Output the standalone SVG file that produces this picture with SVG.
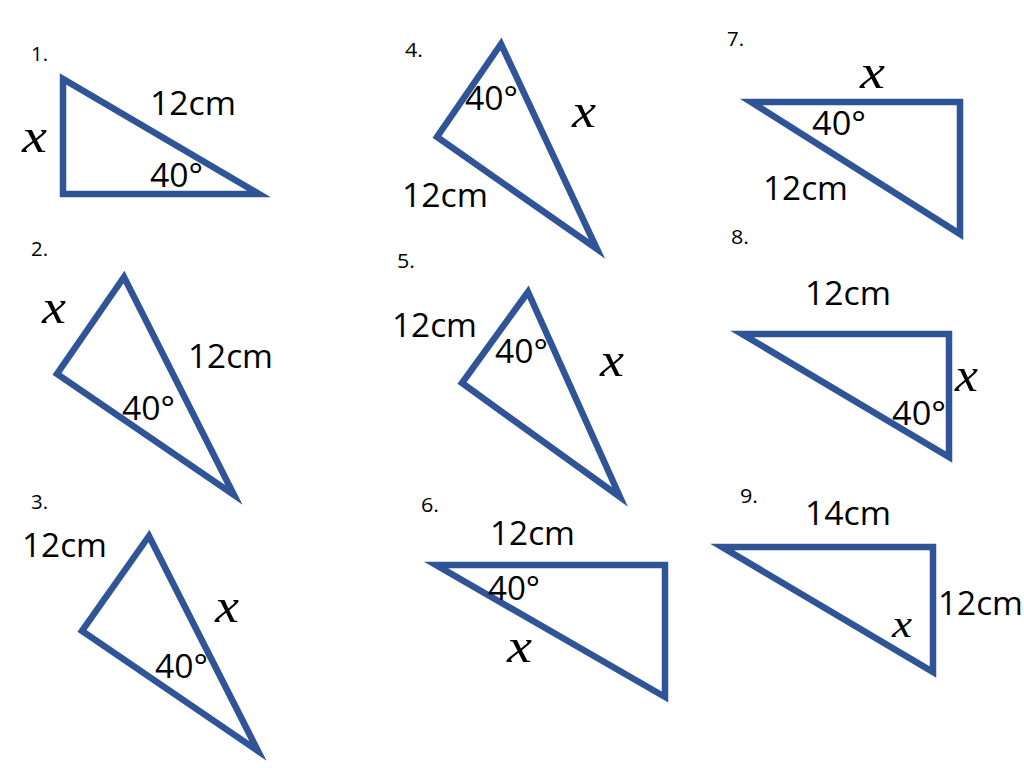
<svg xmlns="http://www.w3.org/2000/svg" width="1024" height="768" viewBox="0 0 1024 768">
<style>
.tri{fill:none;stroke:#2F5597;stroke-width:6.5;stroke-linejoin:miter;stroke-miterlimit:10}
.num{font-family:"Open Sans","Liberation Sans",sans-serif;font-size:20px;fill:#000}
.lbl{font-family:"Open Sans","Liberation Sans",sans-serif;font-size:32px;fill:#000}
.var{font-family:"Liberation Serif","DejaVu Serif",serif;font-style:italic;font-size:48px;fill:#000}
.var-s{font-family:"Liberation Serif","DejaVu Serif",serif;font-style:italic;font-size:38px;fill:#000}
</style>
<rect width="1024" height="768" fill="#fff"/>
<g id="t1">
<polygon class="tri" points="63,79 63,194 259,194"/>
<text class="num" x="31" y="61" textLength="17" lengthAdjust="spacingAndGlyphs">1.</text>
<text class="var" x="22" y="152" textLength="25" lengthAdjust="spacingAndGlyphs">x</text>
<text class="lbl" x="150" y="115" textLength="86" lengthAdjust="spacingAndGlyphs">12cm</text>
<text class="lbl" x="150" y="187" textLength="53" lengthAdjust="spacingAndGlyphs">40°</text>
</g>
<g id="t2">
<polygon class="tri" points="124,277 57,374 234,495"/>
<text class="num" x="31" y="256" textLength="17" lengthAdjust="spacingAndGlyphs">2.</text>
<text class="var" x="42" y="323" textLength="24" lengthAdjust="spacingAndGlyphs">x</text>
<text class="lbl" x="188" y="368" textLength="85" lengthAdjust="spacingAndGlyphs">12cm</text>
<text class="lbl" x="122" y="420" textLength="53" lengthAdjust="spacingAndGlyphs">40°</text>
</g>
<g id="t3">
<polygon class="tri" points="149,536 82,631 258,751"/>
<text class="num" x="31" y="509" textLength="17" lengthAdjust="spacingAndGlyphs">3.</text>
<text class="lbl" x="22" y="557" textLength="85" lengthAdjust="spacingAndGlyphs">12cm</text>
<text class="var" x="215" y="622" textLength="24" lengthAdjust="spacingAndGlyphs">x</text>
<text class="lbl" x="155" y="678" textLength="53" lengthAdjust="spacingAndGlyphs">40°</text>
</g>
<g id="t4">
<polygon class="tri" points="501,44 437,137 597,249"/>
<text class="num" x="405" y="57" textLength="18" lengthAdjust="spacingAndGlyphs">4.</text>
<text class="lbl" x="465" y="110" textLength="53" lengthAdjust="spacingAndGlyphs">40°</text>
<text class="var" x="572" y="127" textLength="24" lengthAdjust="spacingAndGlyphs">x</text>
<text class="lbl" x="402" y="207" textLength="86" lengthAdjust="spacingAndGlyphs">12cm</text>
</g>
<g id="t5">
<polygon class="tri" points="528,292 462,383 620,497"/>
<text class="num" x="397" y="268" textLength="18" lengthAdjust="spacingAndGlyphs">5.</text>
<text class="lbl" x="392" y="337" textLength="85" lengthAdjust="spacingAndGlyphs">12cm</text>
<text class="lbl" x="495" y="363" textLength="53" lengthAdjust="spacingAndGlyphs">40°</text>
<text class="var" x="600" y="376" textLength="24" lengthAdjust="spacingAndGlyphs">x</text>
</g>
<g id="t6">
<polygon class="tri" points="436,565 665,565 665,697"/>
<text class="num" x="421" y="512" textLength="18" lengthAdjust="spacingAndGlyphs">6.</text>
<text class="lbl" x="490" y="545" textLength="85" lengthAdjust="spacingAndGlyphs">12cm</text>
<text class="lbl" x="488" y="600" textLength="52" lengthAdjust="spacingAndGlyphs">40°</text>
<text class="var" x="507" y="662" textLength="25" lengthAdjust="spacingAndGlyphs">x</text>
</g>
<g id="t7">
<polygon class="tri" points="751,102 960,102 960,234"/>
<text class="num" x="727" y="46" textLength="17" lengthAdjust="spacingAndGlyphs">7.</text>
<text class="var" x="860" y="88" textLength="25" lengthAdjust="spacingAndGlyphs">x</text>
<text class="lbl" x="812" y="135" textLength="54" lengthAdjust="spacingAndGlyphs">40°</text>
<text class="lbl" x="763" y="200" textLength="85" lengthAdjust="spacingAndGlyphs">12cm</text>
</g>
<g id="t8">
<polygon class="tri" points="742,334 949,334 949,457"/>
<text class="num" x="731" y="244" textLength="18" lengthAdjust="spacingAndGlyphs">8.</text>
<text class="lbl" x="805" y="305" textLength="86" lengthAdjust="spacingAndGlyphs">12cm</text>
<text class="var" x="955" y="391" textLength="23" lengthAdjust="spacingAndGlyphs">x</text>
<text class="lbl" x="892" y="425" textLength="54" lengthAdjust="spacingAndGlyphs">40°</text>
</g>
<g id="t9">
<polygon class="tri" points="722,547 933,547 933,672"/>
<text class="num" x="740" y="503" textLength="18" lengthAdjust="spacingAndGlyphs">9.</text>
<text class="lbl" x="805" y="525" textLength="86" lengthAdjust="spacingAndGlyphs">14cm</text>
<text class="lbl" x="938" y="615" textLength="85" lengthAdjust="spacingAndGlyphs">12cm</text>
<text class="var-s" x="892" y="637" textLength="20" lengthAdjust="spacingAndGlyphs">x</text>
</g>
</svg>
